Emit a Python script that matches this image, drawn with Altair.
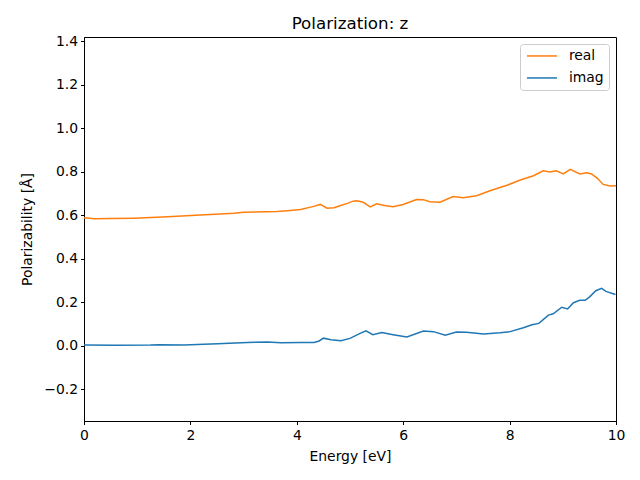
import altair as alt
import pandas as pd

real_e = [0, 0.2, 0.5, 0.94, 1.57, 2.19, 2.82, 3.0, 3.63, 3.82, 4.07, 4.32, 4.44, 4.57, 4.7, 4.81, 4.95,
          5.06, 5.13, 5.25, 5.38, 5.5, 5.65, 5.81, 6.0, 6.25, 6.38, 6.5, 6.69, 6.94, 7.13, 7.38, 7.63,
          7.95, 8.2, 8.45, 8.63, 8.76, 8.88, 9.01, 9.14, 9.32, 9.45, 9.54, 9.65, 9.76, 9.89, 10.0]
real_v = [0.589, 0.584, 0.585, 0.587, 0.593, 0.601, 0.610, 0.614, 0.617, 0.621, 0.627, 0.641, 0.650,
          0.633, 0.635, 0.644, 0.655, 0.665, 0.667, 0.660, 0.639, 0.653, 0.645, 0.639, 0.650, 0.673,
          0.672, 0.662, 0.660, 0.686, 0.681, 0.690, 0.713, 0.738, 0.762, 0.782, 0.805, 0.799, 0.805,
          0.790, 0.811, 0.790, 0.796, 0.790, 0.770, 0.742, 0.735, 0.736]

imag_e = [0, 0.6, 1.25, 1.4, 1.88, 2.51, 3.07, 3.45, 3.7, 4.07, 4.32, 4.42, 4.5, 4.64, 4.83, 5.0, 5.19,
          5.3, 5.43, 5.6, 5.81, 6.07, 6.38, 6.57, 6.79, 7.0, 7.19, 7.51, 7.82, 8.01, 8.26, 8.42, 8.55,
          8.73, 8.82, 8.98, 9.09, 9.2, 9.32, 9.42, 9.51, 9.62, 9.73, 9.81, 9.99]
imag_v = [0.003, 0.002, 0.003, 0.005, 0.004, 0.009, 0.015, 0.017, 0.014, 0.015, 0.015, 0.022, 0.035,
          0.028, 0.023, 0.034, 0.057, 0.069, 0.051, 0.061, 0.051, 0.040, 0.068, 0.065, 0.048, 0.063,
          0.062, 0.054, 0.060, 0.065, 0.083, 0.097, 0.103, 0.141, 0.147, 0.177, 0.169, 0.198, 0.209,
          0.209, 0.226, 0.253, 0.264, 0.250, 0.236]

series = ["real", "imag"]
colors = ["#ff7f0e", "#1f77b4"]
x_ticks = [0, 2, 4, 6, 8, 10]
y_ticks = [-0.2, 0.0, 0.2, 0.4, 0.6, 0.8, 1.0, 1.2, 1.4]

df = pd.concat([
    pd.DataFrame({"Energy": real_e, "value": real_v, "series": "real", "order": 0}),
    pd.DataFrame({"Energy": imag_e, "value": imag_v, "series": "imag", "order": 1}),
])

font = "DejaVu Sans"

chart = alt.Chart(df).mark_line(strokeWidth=1.5, clip=True).encode(
    x=alt.X("Energy:Q", scale=alt.Scale(domain=[0, 10], nice=False, zero=False),
            axis=alt.Axis(title="Energy [eV]", values=x_ticks, format="d", grid=False,
                          tickColor="black", domainColor="black", tickSize=3.5,
                          labelFontSize=13.9, titleFontSize=13.9, labelFont=font, titleFont=font,
                          labelColor="black", titleColor="black", labelPadding=4, titlePadding=7,
                          labelFlush=False, labelOverlap=False,
                          titleFontWeight="normal")),
    y=alt.Y("value:Q", scale=alt.Scale(domain=[-0.346, 1.42], nice=False, zero=False),
            axis=alt.Axis(title="Polarizability [Å]", values=y_ticks, format=".1f", grid=False,
                          tickColor="black", domainColor="black", tickSize=3.5,
                          labelFontSize=13.9, titleFontSize=13.9, labelFont=font, titleFont=font,
                          labelColor="black", titleColor="black", labelPadding=3, titlePadding=9,
                          labelFlush=False, labelOverlap=False,
                          titleFontWeight="normal")),
    color=alt.Color("series:N", scale=alt.Scale(domain=series, range=colors),
                    legend=alt.Legend(title=None, orient="top-right", offset=7,
                                      symbolType="M-1,0H5", symbolStrokeWidth=1.5, symbolSize=100,
                                      labelFontSize=13.9, labelFont=font, labelColor="black",
                                      fillColor="white", strokeColor="#cccccc", padding=5,
                                      cornerRadius=3, rowPadding=7, labelOffset=30)),
    detail="order:O",
).properties(
    width=532, height=384,
    title=alt.TitleParams("Polarization: z", fontSize=16.7, font=font, fontWeight="normal",
                          color="black", offset=2),
    autosize=alt.AutoSizeParams(type="none"),
    padding={"left": 76, "top": 29, "right": 16, "bottom": 51},
).configure_view(stroke="black", strokeWidth=1)

chart.save("out.html", embed_options={"renderer": "svg", "actions": False})
